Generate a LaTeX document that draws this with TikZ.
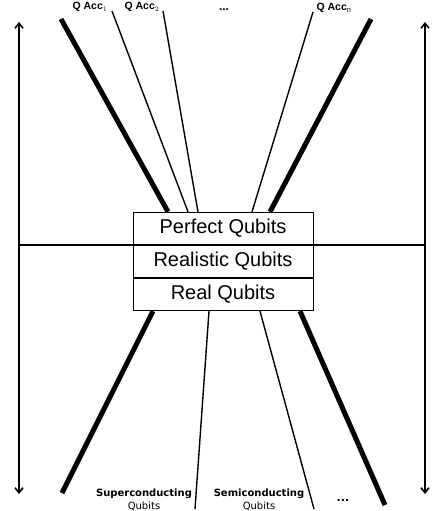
\documentclass[tikz,border=0pt]{standalone}
\usepackage{fontspec}
\setmainfont{Liberation Sans}
\newfontfamily\verd{DejaVu Sans}
\usetikzlibrary{arrows.meta}
\tikzset{
  level/.style={draw, line width=0.8pt, minimum width=180pt, minimum height=32.5pt, inner sep=0pt, font=\fontsize{20}{22}\selectfont},
  bound/.style={line width=5pt},
  accline/.style={line width=1.4pt},
  acclabel/.style={font=\bfseries\fontsize{10.5}{12}\selectfont, inner sep=0pt},
  techlabel/.style={font=\verd\fontsize{10}{13}\selectfont, align=center, inner sep=0pt}
}
\begin{document}
\begin{tikzpicture}[x=1pt,y=-1pt]
\useasboundingbox (0,0) rectangle (432,511);
% levels
\node[level] (perfect) at (223,228.5) {Perfect Qubits};
\node[level] (realistic) at (223,261.5) {Realistic Qubits};
\node[level] (real) at (223,294.5) {Real Qubits};
% ends of the lines
\coordinate (tl) at (61,19);
\coordinate (tr) at (371,19);
\coordinate (acc1) at (112,11);
\coordinate (acc2) at (163,11);
\coordinate (accn) at (313,12);
\coordinate (bl) at (62,493);
\coordinate (br) at (385,505);
\coordinate (sup) at (195,509);
\coordinate (semi) at (314,509);
\coordinate (lt) at (19,22);
\coordinate (lb) at (19,494);
\coordinate (rt) at (425,22);
\coordinate (rb) at (425,494);
% axes
\draw[line width=1.6pt, {Straight Barb[length=5pt,width=8pt]}-{Straight Barb[length=5pt,width=8pt]}] (lb) -- (lt);
\draw[line width=1.6pt, {Straight Barb[length=5pt,width=8pt]}-{Straight Barb[length=5pt,width=8pt]}] (rb) -- (rt);
\draw[line width=1.6pt] (19,245) -- (425,245);
% top
\draw[bound] (tl) -- (perfect.north west -| 168,0);
\draw[bound] (tr) -- (perfect.north west -| 270,0);
\draw[accline] (acc1) -- (perfect.north west -| 188,0);
\draw[accline] (acc2) -- (perfect.north west -| 198,0);
\draw[accline] (accn) -- (perfect.north west -| 252,0);
% bottom
\draw[bound] (bl) -- (real.south west -| 153,0);
\draw[bound] (br) -- (real.south west -| 300,0);
\draw[accline] (sup) -- (real.south west -| 209,0);
\draw[accline] (semi) -- (real.south west -| 260,0);
% labels
\node[acclabel] (lacc1) at (90,7) {Q Acc$_1$};
\node[acclabel] (lacc2) at (142,7) {Q Acc$_2$};
\node[acclabel, anchor=base, font=\bfseries\fontsize{12}{12}\selectfont] (ldots) at (224,10.5) {...};
\node[acclabel] (laccn) at (334,8) {Q Acc$_\mathrm{n}$};
\node[techlabel] (lsup) at (144,500) {\bfseries Superconducting\\Qubits};
\node[techlabel] (lsemi) at (259,500) {\bfseries Semiconducting\\Qubits};
\node[techlabel, anchor=base, font=\verd\bfseries\fontsize{11}{11}\selectfont] (ldots2) at (343,501) {...};
\end{tikzpicture}
\end{document}
